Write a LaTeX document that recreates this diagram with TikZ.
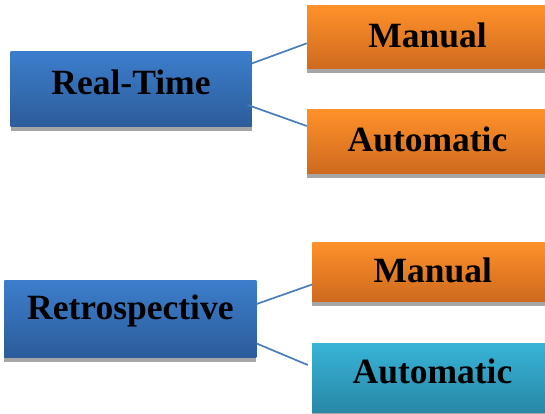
\documentclass[tikz,border=0pt]{standalone}
\usepackage{fontspec}
\setmainfont{Liberation Serif}
\usetikzlibrary{shadows}
\definecolor{bluetop}{RGB}{60,126,204}
\definecolor{bluebot}{RGB}{44,92,154}
\definecolor{orangetop}{RGB}{255,145,42}
\definecolor{orangebot}{RGB}{206,106,30}
\definecolor{tealtop}{RGB}{56,180,216}
\definecolor{tealbot}{RGB}{40,136,166}
\definecolor{shadowgray}{RGB}{166,166,166}
\definecolor{linkcol}{RGB}{74,126,187}
\tikzset{
  boxbase/.style={rectangle, inner sep=0pt, minimum width=241pt,
    font=\fontsize{35.5}{40}\selectfont\bfseries, text=black,
    text height=23.5pt, text depth=0pt,
    drop shadow={shadow xshift=0pt, shadow yshift=-4.5pt, fill=shadowgray, opacity=1}},
  bluebox/.style={boxbase, top color=bluetop, bottom color=bluebot},
  orangebox/.style={boxbase, top color=orangetop, bottom color=orangebot},
  tealbox/.style={boxbase, top color=tealtop, bottom color=tealbot},
  link/.style={draw=linkcol, line width=1.7pt}
}
\begin{document}
\begin{tikzpicture}[x=1pt,y=-1pt]
\useasboundingbox (0,0) rectangle (545,414);
\node[bluebox, minimum height=75pt, text depth=13pt] (rt) at (131,89.5) {Real-Time};
\node[orangebox, minimum height=63pt, text depth=4pt] (m1) at (427.5,37.5) {Manual};
\node[orangebox, minimum height=63pt, text depth=3pt] (a1) at (427.5,141.5) {Automatic};
\node[bluebox, minimum width=252pt, minimum height=77pt, text depth=21pt] (rs) at (130.4,318.5) {Retrospective};
\node[orangebox, minimum height=59pt, text depth=1pt] (m2) at (432.8,271.5) {Manual};
\node[tealbox, minimum height=69pt, text depth=11pt] (a2) at (432.5,377.5) {Automatic};
\draw[link] ([yshift=26pt]rt.east) -- ([yshift=-5.8pt]m1.west);
\draw[link] ([xshift=-4pt,yshift=-15.5pt]rt.east) -- ([yshift=15.5pt]a1.west);
\draw[link] ([yshift=14.5pt]rs.east) -- ([yshift=-13pt]m2.west);
\draw[link] ([yshift=-25pt]rs.east) -- ([xshift=-4pt,yshift=12.5pt]a2.west);
\end{tikzpicture}
\end{document}
